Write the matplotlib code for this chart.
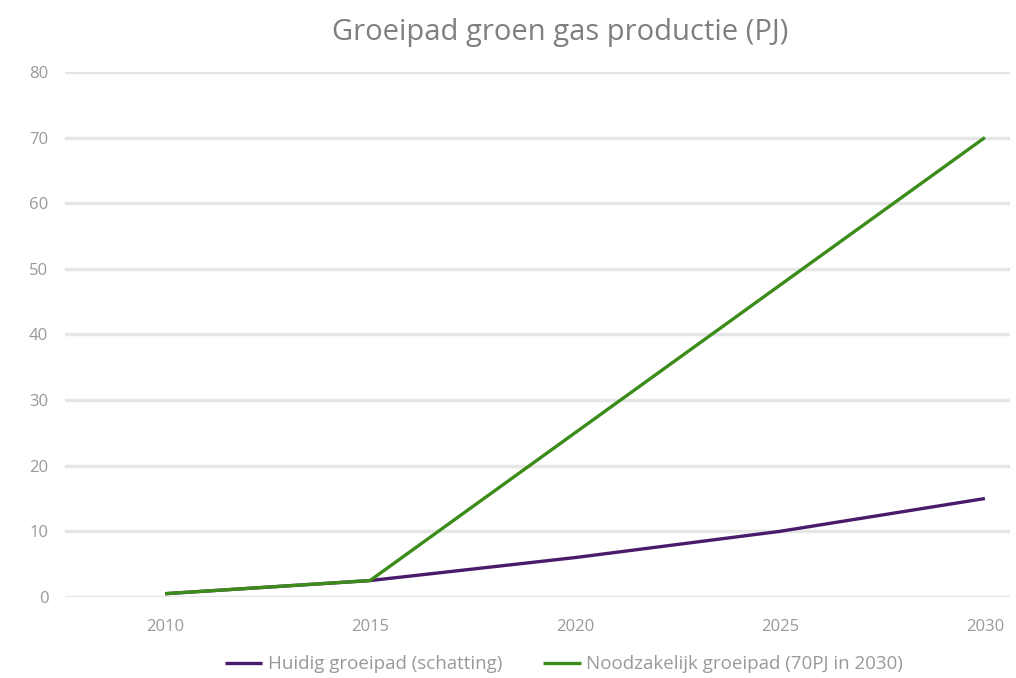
import matplotlib
matplotlib.use("Agg")
import matplotlib.pyplot as plt

years = [2010, 2015, 2020, 2025, 2030]
huidig = [0.5, 2.5, 6.0, 10.0, 15.0]
noodzakelijk = [0.5, 2.5, 25.0, 47.5, 70.0]
yticks = [0, 10, 20, 30, 40, 50, 60, 70, 80]
title = "Groeipad groen gas productie (PJ)"
labels = ["Huidig groeipad (schatting)", "Noodzakelijk groeipad (70PJ in 2030)"]

plt.rcParams['font.family'] = ['Open Sans', 'DejaVu Sans']
fig = plt.figure(figsize=(10.16, 6.78), dpi=100)
ax = fig.add_axes([0.064, 0.1195, 0.93, 0.7745])

ax.plot(years, huidig, color="#4a1a6b", lw=2.4, label=labels[0], solid_capstyle='butt', zorder=3)
ax.plot(years, noodzakelijk, color="#3c8c1a", lw=2.4, label=labels[1], solid_capstyle='butt', zorder=4)

ax.set_xlim(2007.56, 2030.61)
ax.set_ylim(0, 80)
ax.set_yticks(yticks)
ax.set_xticks(years)
ax.grid(axis='y', color="#e6e6e6", lw=2.5)
ax.set_axisbelow(True)
for s in ax.spines.values():
    s.set_visible(False)
ax.tick_params(length=0, labelsize=12, colors="#999999")
ax.tick_params(axis='x', pad=16)
ax.tick_params(axis='y', pad=12)

fig.text(0.551, 0.952, title, ha='center', va='center', fontsize=21, color="#7f7f7f")
fig.legend(loc='center', bbox_to_anchor=(0.555, 0.02), ncol=2, frameon=False,
           fontsize=13.5, labelcolor="#999999", handlelength=2.0, handletextpad=0.3,
           columnspacing=2.2)
fig.savefig("out.png", dpi=100)
